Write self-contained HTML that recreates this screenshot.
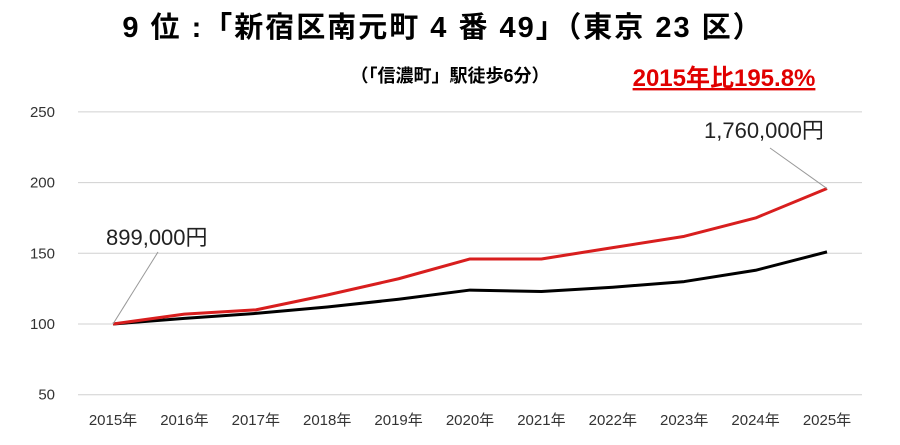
<!DOCTYPE html>
<html><head><meta charset="utf-8"><style>
body{margin:0;background:#fff;width:900px;height:445px;overflow:hidden}
svg{display:block;font-family:"Liberation Sans","Noto Sans CJK JP",sans-serif}
</style></head><body>
<svg id="c" width="900" height="445">
<text x="443" y="37" text-anchor="middle" font-size="29" font-weight="bold" letter-spacing="2">9 位 :「新宿区南元町 4 番 49」（東京 23 区）</text>
<text x="450" y="82" text-anchor="middle" font-size="18" font-weight="bold">（「信濃町」駅徒歩6分）</text>
<text x="724" y="86" text-anchor="middle" font-size="24" font-weight="bold" fill="#e00000" text-decoration="underline">2015年比195.8%</text>
<g id="grid"></g><g id="lines"></g>
</svg>
<script>
const years=["2015年","2016年","2017年","2018年","2019年","2020年","2021年","2022年","2023年","2024年","2025年"];
const redSeries=[100,107,110,120.5,132,146,146,154,162,175,195.8];
const blackSeries=[100,104,107.5,112,117.5,124,123,126,130,138,151];
const yTicks=[50,100,150,200,250];
const NS="http://www.w3.org/2000/svg";
const x=i=>113+i*71.4;
const y=v=>324-(v-100)*1.414;
function mk(t,a,p){const e=document.createElementNS(NS,t);for(const k in a)e.setAttribute(k,a[k]);p.appendChild(e);return e;}
const g=document.getElementById('grid'),L=document.getElementById('lines');
yTicks.forEach(v=>{
 const l=mk('line',{x1:78,x2:862,y1:y(v),y2:y(v),stroke:'#d0d0d0','stroke-width':1},g);
 
 
 const t=mk('text',{x:55,y:y(v)+5,'text-anchor':'end','font-size':15,fill:'#333'},g);t.textContent=v;
 
 
});
years.forEach((s,i)=>{
 const t=mk('text',{x:x(i),y:425,'text-anchor':'middle','font-size':15,fill:'#333'},g);t.textContent=s;
 
 
});
const b=mk('polyline',{points:blackSeries.map((v,i)=>x(i)+','+y(v)).join(' '),fill:'none',stroke:'#000','stroke-width':3,'stroke-linejoin':'round'},L);


const r=mk('polyline',{points:redSeries.map((v,i)=>x(i)+','+y(v)).join(' '),fill:'none',stroke:'#d81e1e','stroke-width':3,'stroke-linejoin':'round'},L);


const n=redSeries.length-1;
const l1=mk('line',{x1:x(0),y1:y(redSeries[0]),x2:158,y2:252,stroke:'#999','stroke-width':1},L);


const l2=mk('line',{x1:x(n),y1:y(redSeries[n]),x2:770,y2:148,stroke:'#999','stroke-width':1},L);


const t1=mk('text',{x:106,y:245,'font-size':22,fill:'#222'},L);t1.textContent='899,000円';


const t2=mk('text',{x:704,y:138,'font-size':22,fill:'#222'},L);t2.textContent='1,760,000円';


</script>
</body></html>
